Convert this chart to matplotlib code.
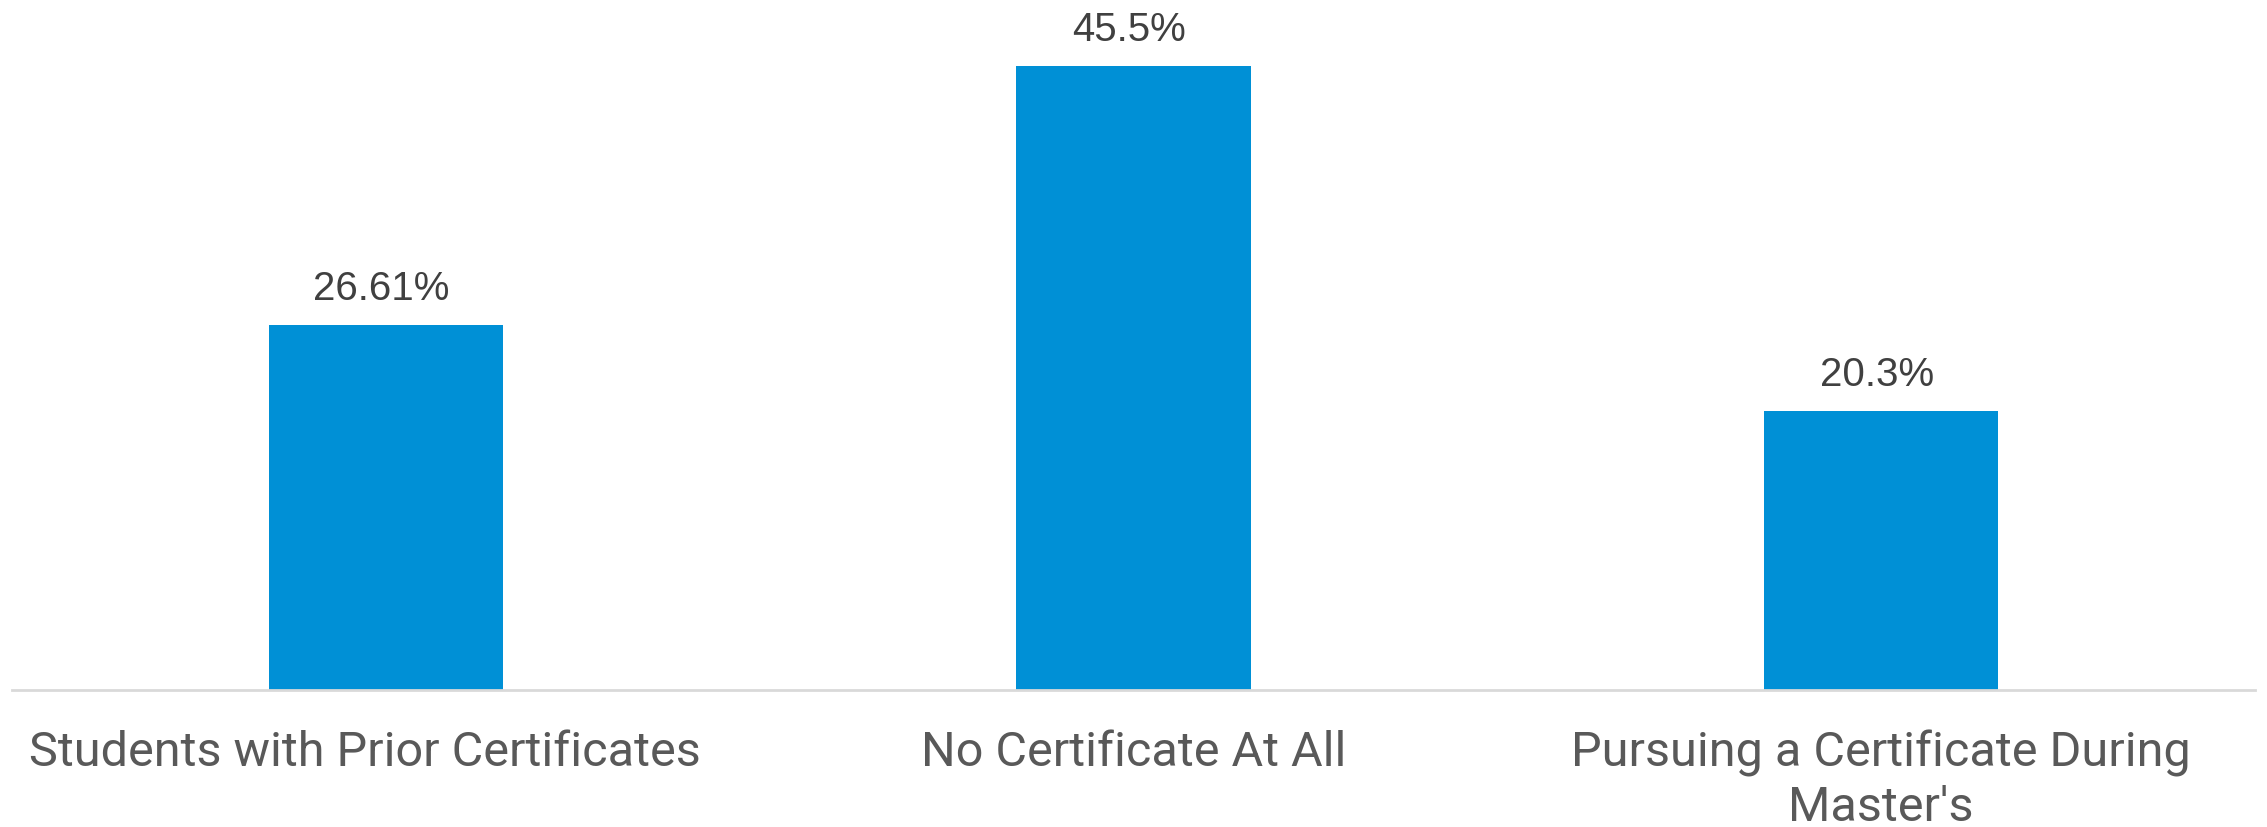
"""Bar chart of certificate status among master's students"""

import matplotlib.pyplot as plt
import matplotlib.transforms as mtransforms

categories = [
    "Students with Prior Certificates",
    "No Certificate At All",
    "Pursuing a Certificate During\nMaster's",
]
values = [26.61, 45.5, 20.3]
value_labels = ["26.61%", "45.5%", "20.3%"]

fig = plt.figure(figsize=(22.67, 8.28), dpi=100)
ax = fig.add_axes([0.0053, 0.1655, 0.9894, 0.8285])

x = range(len(categories))
bars = ax.bar(x, values, width=0.313, color="#0090D6")

for bar, lab in zip(bars, value_labels):
    ax.annotate(lab, (bar.get_x() + bar.get_width() / 2, bar.get_height()),
                xytext=(-3, 13), textcoords="offset points",
                ha="center", va="bottom", fontsize=29,
                family="Liberation Sans", color="#404040")

ax.set_xlim(-0.5, 2.5)
ax.set_ylim(0, 50)
ax.set_xticks(list(x))
ax.set_xticklabels(categories, fontsize=35, family="Roboto", color="#595959",
                   linespacing=1.22)
ax.tick_params(axis="x", length=0, pad=28)
ax.set_yticks([])
for side in ["top", "right", "left"]:
    ax.spines[side].set_visible(False)
ax.spines["bottom"].set_color("#D9D9D9")
ax.spines["bottom"].set_linewidth(2)

# first label sits a little left of its bar in the original
first = ax.get_xticklabels()[0]
first.set_transform(first.get_transform()
                    + mtransforms.ScaledTranslation(-0.21, 0, fig.dpi_scale_trans))

fig.savefig("out.png", dpi=100)
